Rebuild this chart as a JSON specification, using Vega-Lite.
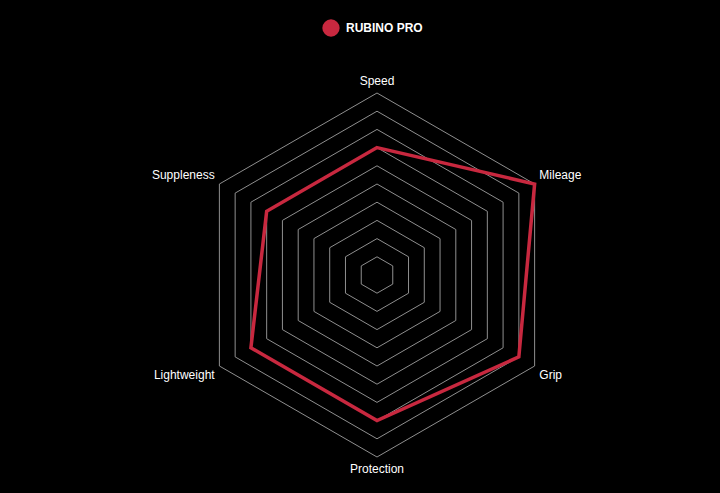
{
  "$schema": "https://vega.github.io/schema/vega-lite/v6.json",
  "width": 364,
  "height": 364,
  "autosize": "none",
  "padding": {"left": 195, "top": 93, "right": 161, "bottom": 36},
  "background": "#000000",
  "config": {
    "view": {"stroke": null},
    "font": "Liberation Sans",
    "text": {"font": "Liberation Sans"}
  },
  "datasets": {
    "scores": [
      {"axis": "Speed", "value": 7, "tyre": "RUBINO PRO"},
      {"axis": "Mileage", "value": 10, "tyre": "RUBINO PRO"},
      {"axis": "Grip", "value": 9, "tyre": "RUBINO PRO"},
      {"axis": "Protection", "value": 8, "tyre": "RUBINO PRO"},
      {"axis": "Lightweight", "value": 8, "tyre": "RUBINO PRO"},
      {"axis": "Suppleness", "value": 7, "tyre": "RUBINO PRO"}
    ],
    "rings": [
      {"level": 1, "axis": ["Speed", "Mileage", "Grip", "Protection", "Lightweight", "Suppleness"]},
      {"level": 2, "axis": ["Speed", "Mileage", "Grip", "Protection", "Lightweight", "Suppleness"]},
      {"level": 3, "axis": ["Speed", "Mileage", "Grip", "Protection", "Lightweight", "Suppleness"]},
      {"level": 4, "axis": ["Speed", "Mileage", "Grip", "Protection", "Lightweight", "Suppleness"]},
      {"level": 5, "axis": ["Speed", "Mileage", "Grip", "Protection", "Lightweight", "Suppleness"]},
      {"level": 6, "axis": ["Speed", "Mileage", "Grip", "Protection", "Lightweight", "Suppleness"]},
      {"level": 7, "axis": ["Speed", "Mileage", "Grip", "Protection", "Lightweight", "Suppleness"]},
      {"level": 8, "axis": ["Speed", "Mileage", "Grip", "Protection", "Lightweight", "Suppleness"]},
      {"level": 9, "axis": ["Speed", "Mileage", "Grip", "Protection", "Lightweight", "Suppleness"]},
      {"level": 10, "axis": ["Speed", "Mileage", "Grip", "Protection", "Lightweight", "Suppleness"]}
    ]
  },
  "layer": [
    {
      "data": {"name": "rings"},
      "transform": [
        {"flatten": ["axis"]},
        {"calculate": "indexof(['Speed','Mileage','Grip','Protection','Lightweight','Suppleness'], datum.axis)", "as": "idx"},
        {"calculate": "datum.level * sin(datum.idx * PI / 3)", "as": "x"},
        {"calculate": "datum.level * cos(datum.idx * PI / 3)", "as": "y"}
      ],
      "mark": {"type": "line", "interpolate": "linear-closed", "color": "#8f8f8f", "strokeWidth": 1},
      "encoding": {
        "x": {"field": "x", "type": "quantitative", "scale": {"domain": [-10, 10]}, "axis": null},
        "y": {"field": "y", "type": "quantitative", "scale": {"domain": [-10, 10]}, "axis": null},
        "detail": {"field": "level", "type": "nominal"},
        "order": {"field": "idx", "type": "quantitative"}
      }
    },
    {
      "data": {"name": "scores"},
      "transform": [
        {"calculate": "indexof(['Speed','Mileage','Grip','Protection','Lightweight','Suppleness'], datum.axis)", "as": "idx"},
        {"calculate": "datum.value * sin(datum.idx * PI / 3)", "as": "x"},
        {"calculate": "datum.value * cos(datum.idx * PI / 3)", "as": "y"}
      ],
      "mark": {"type": "line", "interpolate": "linear-closed", "strokeWidth": 3.5, "strokeJoin": "miter"},
      "encoding": {
        "x": {"field": "x", "type": "quantitative", "scale": {"domain": [-10, 10]}, "axis": null},
        "y": {"field": "y", "type": "quantitative", "scale": {"domain": [-10, 10]}, "axis": null},
        "order": {"field": "idx", "type": "quantitative"},
        "color": {
          "field": "tyre",
          "type": "nominal",
          "scale": {"range": ["#c8283f"]},
          "legend": {
            "orient": "none",
            "legendX": 127,
            "legendY": -74,
            "title": null,
            "symbolType": "circle",
            "symbolSize": 300,
            "symbolFillColor": "#c8283f",
            "symbolStrokeColor": "#c8283f",
            "symbolStrokeWidth": 0,
            "labelColor": "#ffffff",
            "labelFontSize": 12,
            "labelFontWeight": "bold",
            "labelFont": "Liberation Sans",
            "labelOffset": 6
          }
        }
      }
    },
    {
      "data": {"name": "scores"},
      "transform": [
        {"calculate": "indexof(['Speed','Mileage','Grip','Protection','Lightweight','Suppleness'], datum.axis)", "as": "idx"},
        {"calculate": "10.3 * sin(datum.idx * PI / 3)", "as": "lx"},
        {"calculate": "10.65 * cos(datum.idx * PI / 3)", "as": "ly"},
        {"filter": "datum.idx % 3 == 0"}
      ],
      "mark": {"type": "text", "align": "center", "baseline": "middle", "color": "#ffffff", "fontSize": 12},
      "encoding": {
        "x": {"field": "lx", "type": "quantitative"},
        "y": {"field": "ly", "type": "quantitative"},
        "text": {"field": "axis"}
      }
    },
    {
      "data": {"name": "scores"},
      "transform": [
        {"calculate": "indexof(['Speed','Mileage','Grip','Protection','Lightweight','Suppleness'], datum.axis)", "as": "idx"},
        {"calculate": "10.3 * sin(datum.idx * PI / 3)", "as": "lx"},
        {"calculate": "11 * cos(datum.idx * PI / 3)", "as": "ly"},
        {"filter": "datum.idx == 1 || datum.idx == 2"}
      ],
      "mark": {"type": "text", "align": "left", "baseline": "middle", "color": "#ffffff", "fontSize": 12},
      "encoding": {
        "x": {"field": "lx", "type": "quantitative"},
        "y": {"field": "ly", "type": "quantitative"},
        "text": {"field": "axis"}
      }
    },
    {
      "data": {"name": "scores"},
      "transform": [
        {"calculate": "indexof(['Speed','Mileage','Grip','Protection','Lightweight','Suppleness'], datum.axis)", "as": "idx"},
        {"calculate": "10.3 * sin(datum.idx * PI / 3)", "as": "lx"},
        {"calculate": "11 * cos(datum.idx * PI / 3)", "as": "ly"},
        {"filter": "datum.idx == 4 || datum.idx == 5"}
      ],
      "mark": {"type": "text", "align": "right", "baseline": "middle", "color": "#ffffff", "fontSize": 12},
      "encoding": {
        "x": {"field": "lx", "type": "quantitative"},
        "y": {"field": "ly", "type": "quantitative"},
        "text": {"field": "axis"}
      }
    }
  ]
}
